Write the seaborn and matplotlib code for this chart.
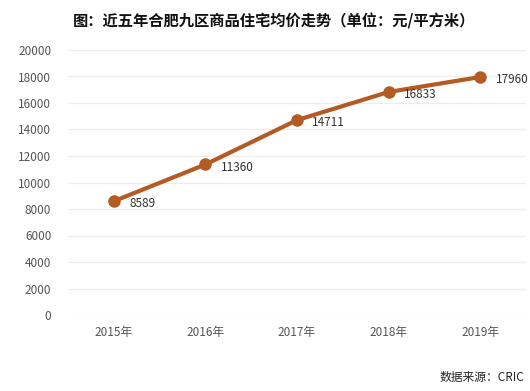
import matplotlib
matplotlib.use("Agg")
import matplotlib.pyplot as plt
import seaborn as sns
import pandas as pd

years = ["2015年", "2016年", "2017年", "2018年", "2019年"]
prices = [8589, 11360, 14711, 16833, 17960]
yticks = [0, 2000, 4000, 6000, 8000, 10000, 12000, 14000, 16000, 18000, 20000]
title = "图：近五年合肥九区商品住宅均价走势（单位：元/平方米）"
source = "数据来源：CRIC"

sns.set_theme(style="white")
plt.rcParams['font.family'] = ['Noto Sans CJK SC', 'DejaVu Sans']

df = pd.DataFrame({"year": years, "price": prices})

fig = plt.figure(figsize=(5.30, 3.91), dpi=100)
ax = fig.add_axes([68/530, 1-315/391, (526-68)/530, (315-50)/391])

color = "#B35B22"
sns.lineplot(data=df, x="year", y="price", ax=ax, color=color, linewidth=3.0,
             marker="o", markersize=9, markeredgewidth=0, sort=False)

ax.set_xlim(-0.5, len(years) - 0.5)
ax.set_ylim(0, 20000)
ax.set_yticks(yticks)
ax.set_yticklabels([str(v) for v in yticks])
ax.grid(axis="y", color="#ededed", linewidth=1)
ax.set_axisbelow(True)
for s in ax.spines.values():
    s.set_visible(False)
ax.tick_params(axis="both", length=0, labelsize=8.5, labelcolor="#555555")
ax.tick_params(axis="y", pad=12)
ax.tick_params(axis="x", pad=8)
ax.set_xlabel("")
ax.set_ylabel("")

for i, v in enumerate(prices):
    ax.annotate(str(v), (i, v), xytext=(11, -2), textcoords="offset points",
                ha="left", va="center", fontsize=8.5, color="#333333")

fig.text(274/530, 1-21/391, title, ha="center", va="center", fontsize=11,
         fontweight="bold", color="#111111")
fig.text(524/530, 1-377/391, source, ha="right", va="center", fontsize=8.5,
         color="#222222")

fig.savefig("out.png", dpi=100)
